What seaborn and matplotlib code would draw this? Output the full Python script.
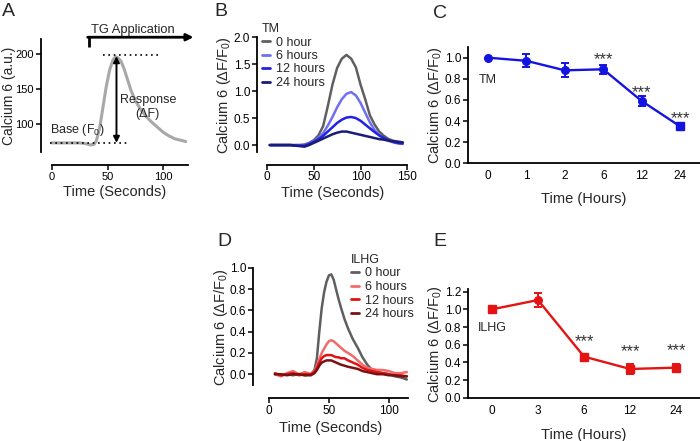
import numpy as np
import pandas as pd
import seaborn as sns
import matplotlib.pyplot as plt
from matplotlib.lines import Line2D
from matplotlib.ticker import FormatStrFormatter

sns.set_theme(style="ticks")
plt.rcParams['font.family'] = ['Liberation Sans', 'DejaVu Sans']
plt.rcParams['mathtext.default'] = 'regular'

# ---- panel A : example trace
a_time = [0, 5, 10, 15, 20, 25, 30, 35, 38, 40, 43, 46, 49, 52, 55, 57, 59, 62, 65, 68,
          71, 75, 80, 85, 90, 95, 100, 105, 110, 115, 120]
a_signal = [73, 73, 73, 73, 73, 73, 72, 70, 71, 76, 95, 125, 155, 178, 192, 196, 195, 190, 178, 163,
            148, 133, 120, 110, 102, 95, 88, 83, 79, 77, 75]

# ---- panel B : TM traces
b_time = [3, 5, 10, 15, 20, 25, 30, 35, 40, 45, 50, 55, 60, 65, 70, 75, 80, 85, 90, 95, 100,
          105, 110, 115, 120, 125, 130, 135, 140, 145]
b_series = ['0 hour', '6 hours', '12 hours', '24 hours']
b_0h = [0, 0, 0, 0, 0, 0, 0, 0, 0.01, 0.04, 0.09, 0.18, 0.35, 0.72, 1.12, 1.43, 1.6, 1.67, 1.6, 1.44,
        1.12, 0.85, 0.55, 0.38, 0.25, 0.17, 0.11, 0.08, 0.06, 0.05]
b_6h = [0, 0, 0, 0, 0, 0, 0, 0, 0.0, 0.03, 0.07, 0.13, 0.22, 0.36, 0.52, 0.7, 0.85, 0.95, 0.98, 0.92,
        0.78, 0.6, 0.42, 0.28, 0.18, 0.12, 0.08, 0.05, 0.03, 0.02]
b_12h = [0, 0, 0, 0, 0, 0, -0.01, -0.01, -0.01, 0.02, 0.06, 0.11, 0.17, 0.25, 0.33, 0.41, 0.47, 0.51, 0.52, 0.5,
         0.45, 0.38, 0.31, 0.24, 0.18, 0.13, 0.09, 0.06, 0.04, 0.03]
b_24h = [0, 0, 0, 0, 0, 0, -0.01, -0.02, -0.03, 0.0, 0.04, 0.08, 0.12, 0.16, 0.2, 0.23, 0.25, 0.25, 0.23, 0.21,
         0.19, 0.17, 0.15, 0.13, 0.11, 0.1, 0.08, 0.07, 0.06, 0.05]
b_colors = ['#5f5f5f', '#6f6ff2', '#2222e6', '#1b1b78']

# ---- panel C : TM summary
c_hours = ['0', '1', '2', '6', '12', '24']
c_mean = [1.0, 0.97, 0.88, 0.89, 0.59, 0.35]
c_err = [0.0, 0.06, 0.065, 0.045, 0.05, 0.03]
c_marker = ['o', 'o', 'o', 'o', 'o', 's']
c_stars = [None, None, None, '***', '***', '***']
c_star_y = [0, 0, 0, 0.98, 0.67, 0.42]

# ---- panel D : ILHG traces
d_time = [5, 10, 15, 20, 25, 30, 35, 38, 40, 42, 44, 46, 48, 50, 52, 54, 56, 58, 60, 63, 66, 70,
          74, 78, 82, 86, 90, 95, 100, 105, 110, 115]
d_series = ['0 hour', '6 hours', '12 hours', '24 hours']
d_0h = [0.0, -0.01, 0.0, -0.01, 0.0, -0.01, 0.0, 0.04, 0.15, 0.40, 0.62, 0.77, 0.87, 0.93, 0.94, 0.89, 0.80,
        0.71, 0.63, 0.52, 0.43, 0.33, 0.25, 0.16, 0.09, 0.04, 0.02, 0.01, 0.0, -0.02, -0.03, -0.05]
d_6h = [0.0, -0.02, 0.01, 0.03, 0.0, 0.02, 0.0, 0.03, 0.08, 0.14, 0.20, 0.24, 0.28, 0.31, 0.32, 0.31, 0.29,
        0.27, 0.25, 0.22, 0.20, 0.17, 0.13, 0.09, 0.06, 0.05, 0.04, 0.04, 0.03, 0.01, 0.01, 0.02]
d_12h = [0.01, -0.01, 0.0, 0.01, -0.01, 0.0, 0.0, 0.02, 0.06, 0.11, 0.15, 0.17, 0.18, 0.18, 0.18, 0.17, 0.16,
         0.16, 0.15, 0.15, 0.13, 0.11, 0.09, 0.06, 0.04, 0.03, 0.02, 0.01, 0.0, -0.01, -0.01, -0.02]
d_24h = [0.0, 0.0, -0.01, 0.0, 0.0, -0.01, -0.01, 0.01, 0.04, 0.08, 0.11, 0.12, 0.13, 0.13, 0.13, 0.12, 0.11,
         0.10, 0.09, 0.08, 0.07, 0.06, 0.05, 0.03, 0.02, 0.01, 0.0, 0.0, -0.01, -0.01, -0.02, -0.02]
d_colors = ['#5f5f5f', '#f26b6b', '#e01414', '#7c1010']

# ---- panel E : ILHG summary
e_hours = ['0', '3', '6', '12', '24']
e_mean = [1.0, 1.105, 0.465, 0.325, 0.34]
e_err = [0.0, 0.075, 0.035, 0.06, 0.045]
e_marker = ['s', 'o', 's', 's', 's']
e_stars = [None, None, '***', '***', '***']
e_star_y = [0, 0, 0.63, 0.52, 0.53]

W, H = 700, 441
fig = plt.figure(figsize=(7, 4.41), dpi=100)


def px_axes(l, t, r, b):
    return fig.add_axes([l / W, 1 - b / H, (r - l) / W, (b - t) / H])


def prism(ax):
    for s in ['top', 'right']:
        ax.spines[s].set_visible(False)
    for s in ['left', 'bottom']:
        ax.spines[s].set_linewidth(1.3)
        ax.spines[s].set_color('black')
    ax.tick_params(length=3.5, width=1.1, colors='black', labelsize=8.5, pad=1.5)
    ax.set_facecolor('none')


def ylab(ax, text, xpx, ypx, size=10.5):
    ax.set_ylabel(text, fontsize=size)
    ax.yaxis.set_label_coords(xpx / W, 1 - ypx / H, transform=fig.transFigure)


def long_df(time, series, values):
    rows = []
    for name, vals in zip(series, values):
        rows.append(pd.DataFrame({'time': time, 'value': vals, 'group': name}))
    return pd.concat(rows, ignore_index=True)


def trace_legend(ax, title, colors, labels, xpx, ypx):
    handles = [Line2D([], [], color=c, lw=2) for c in colors]
    leg = ax.legend(handles, labels, title=title, loc='upper left',
                    bbox_to_anchor=(xpx / W, 1 - ypx / H), bbox_transform=fig.transFigure,
                    frameon=False, fontsize=9, title_fontsize=9, handlelength=0.6,
                    handletextpad=0.55, labelspacing=0.12, borderpad=0, borderaxespad=0,
                    alignment='left')
    return leg


# ================= A
axA = px_axes(40.7, 38, 187.9, 165)
sns.lineplot(x=a_time, y=a_signal, ax=axA, color='#a8a8a8', lw=2.2)
axA.set_xlim(-9.9, 122)
axA.set_ylim(41.4, 222.9)
prism(axA)
axA.tick_params(labelsize=8)
axA.spines['left'].set_bounds(60, 222)
axA.spines['bottom'].set_bounds(0, 122)
axA.set_xticks([0, 50, 100])
axA.set_yticks([100, 150, 200])
axA.set_xlabel('Time (Seconds)', fontsize=10.5, labelpad=2)
ylab(axA, 'Calcium 6 (a.u.)', 16, 96, size=10)
axA.plot([-2, 67], [73, 73], color='black', lw=1.2, dashes=(1, 2.2))
axA.plot([46, 97], [198, 198], color='black', lw=1.2, dashes=(1, 2.2))
axA.annotate('', xy=(58, 73), xytext=(58, 197),
             arrowprops=dict(arrowstyle='<|-|>', color='black', lw=1.4, mutation_scale=9,
                             shrinkA=0, shrinkB=0))
axA.plot([33, 33], [210, 224], color='black', lw=2, clip_on=False, solid_capstyle='butt')
axA.annotate('', xy=(127, 224), xytext=(32.2, 224), annotation_clip=False,
             arrowprops=dict(arrowstyle='-|>', color='black', lw=2, mutation_scale=10,
                             shrinkA=0, shrinkB=0))
axA.text(73, 234, 'TG Application', fontsize=9.3, ha='center', va='center')
axA.text(86, 124, 'Response\n(ΔF)', fontsize=9, ha='center', va='center', linespacing=1.2)
axA.text(-1.5, 91, 'Base (F$_0$)', fontsize=9, ha='left', va='center')

# ================= B
axB = px_axes(257, 36, 407.3, 164.5)
dfB = long_df(b_time, b_series, [b_0h, b_6h, b_12h, b_24h])
sns.lineplot(data=dfB, x='time', y='value', hue='group', palette=b_colors, ax=axB,
             lw=1.8, legend=False)
axB.set_xlim(-10.7, 150)
axB.set_ylim(-0.36, 2.02)
prism(axB)
axB.spines['left'].set_bounds(-0.13, 2.0)
axB.spines['bottom'].set_bounds(0, 150)
axB.set_xticks([0, 50, 100, 150])
axB.set_yticks([0, 0.5, 1.0, 1.5, 2.0])
axB.yaxis.set_major_formatter(FormatStrFormatter('%.1f'))
axB.set_xlabel('Time (Seconds)', fontsize=10.5, labelpad=2)
ylab(axB, 'Calcium 6 (ΔF/F$_0$)', 233, 95)
trace_legend(axB, 'TM', b_colors, b_series, 262, 23)


def summary(ax, cats, mean, err, markers, stars, star_y, color, tag, tag_y, ymax):
    xs = list(range(len(cats)))
    sns.lineplot(x=xs, y=mean, ax=ax, color=color, lw=1.7)
    ax.errorbar(xs, mean, yerr=err, fmt='none', ecolor=color, elinewidth=1.4, capsize=3.2,
                capthick=1.4)
    for x, m, mk in zip(xs, mean, markers):
        ax.plot(x, m, marker=mk, color=color, ms=5.5, ls='none')
    for x, s, sy in zip(xs, stars, star_y):
        if s:
            ax.text(x, sy, s, fontsize=12, ha='center', va='center', color='#333333')
    ax.text(0, tag_y, tag, fontsize=9, ha='center', va='center')
    ax.set_xlim(-0.52, len(cats) - 0.48)
    ax.set_ylim(0, ymax)
    prism(ax)
    ax.set_xticks(xs)
    ax.set_xticklabels(cats)
    ax.tick_params(axis='x', length=0, pad=5)
    ax.yaxis.set_major_formatter(FormatStrFormatter('%.1f'))


# ================= C
axC = px_axes(468, 47.1, 700, 163.3)
summary(axC, c_hours, c_mean, c_err, c_marker, c_stars, c_star_y, '#1414e0', 'TM', 0.79, 1.1)
axC.set_yticks([0, 0.2, 0.4, 0.6, 0.8, 1.0])
axC.set_xlabel('Time (Hours)', fontsize=10.5, labelpad=7)
ylab(axC, 'Calcium 6 (ΔF/F$_0$)', 444, 105)

# ================= D
axD = px_axes(253, 268, 408, 398)
dfD = long_df(d_time, d_series, [d_0h, d_6h, d_12h, d_24h])
sns.lineplot(data=dfD, x='time', y='value', hue='group', palette=d_colors, ax=axD,
             lw=1.8, legend=False)
axD.set_xlim(-13.3, 116)
axD.set_ylim(-0.224, 1.0)
prism(axD)
axD.spines['left'].set_bounds(-0.1, 1.0)
axD.spines['bottom'].set_bounds(0, 116)
axD.set_xticks([0, 50, 100])
axD.set_yticks([0, 0.2, 0.4, 0.6, 0.8, 1.0])
axD.yaxis.set_major_formatter(FormatStrFormatter('%.1f'))
axD.set_xlabel('Time (Seconds)', fontsize=10.5, labelpad=3)
ylab(axD, 'Calcium 6 (ΔF/F$_0$)', 230, 327)
trace_legend(axD, 'ILHG', d_colors, d_series, 351, 254)

# ================= E
axE = px_axes(468, 289, 700, 397.7)
summary(axE, e_hours, e_mean, e_err, e_marker, e_stars, e_star_y, '#e41414', 'ILHG', 0.79, 1.23)
axE.set_yticks([0, 0.2, 0.4, 0.6, 0.8, 1.0, 1.2])
axE.set_xlabel('Time (Hours)', fontsize=10.5, labelpad=8)
ylab(axE, 'Calcium 6 (ΔF/F$_0$)', 444, 344)

# panel letters
for letter, x, y in [('A', 2, 3), ('B', 214, 3), ('C', 433, 5), ('D', 217, 233), ('E', 433, 233)]:
    fig.text(x / W, 1 - y / H, letter, fontsize=14, ha='left', va='top')

fig.savefig('out.png', dpi=100, facecolor='white')
